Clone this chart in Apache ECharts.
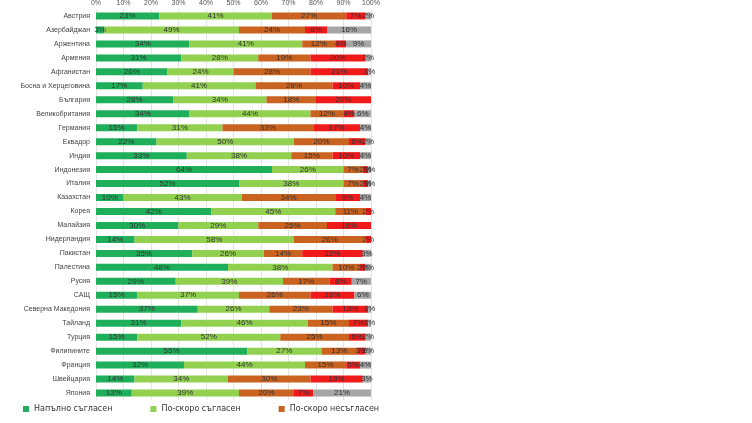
<!DOCTYPE html>
<html>
<head>
<meta charset="utf-8">
<script src="https://cdn.jsdelivr.net/npm/echarts@6/dist/echarts.min.js"></script>
<style>
  html, body { margin: 0; padding: 0; background: #fff; }
  #chart { width: 752px; height: 423px; }
</style>
</head>
<body>
<div id="chart"></div>
<script>
let countries = ['Австрия', 'Азербайджан', 'Аржентина', 'Армения', 'Афганистан', 'Босна и Херцеговина',
  'България', 'Великобритания', 'Германия', 'Еквадор', 'Индия', 'Индонезия', 'Италия', 'Казахстан',
  'Корея', 'Малайзия', 'Нидерландия', 'Пакистан', 'Палестина', 'Русия', 'САЩ', 'Северна Македония',
  'Тайланд', 'Турция', 'Филипините', 'Франция', 'Швейцария', 'Япония'];

let fullyAgree    = [23, 3, 34, 31, 26, 17, 28, 34, 15, 22, 33, 64, 52, 10, 42, 30, 14, 35, 48, 29, 15, 37, 31, 15, 55, 32, 14, 13];
let ratherAgree   = [41, 49, 41, 28, 24, 41, 34, 44, 31, 50, 38, 26, 38, 43, 45, 29, 58, 26, 38, 39, 37, 26, 46, 52, 27, 44, 34, 39];
let ratherDisagree = [27, 24, 12, 19, 28, 28, 18, 12, 33, 20, 15, 7, 7, 34, 11, 25, 26, 14, 10, 17, 26, 23, 15, 25, 13, 15, 30, 20];
let fullyDisagree = [7, 8, 4, 20, 21, 10, 20, 4, 17, 6, 10, 2, 2, 9, 2, 16, 2, 22, 2, 8, 16, 13, 7, 6, 3, 5, 19, 7];
let dontKnow      = [2, 16, 9, 2, 1, 4, 0, 6, 4, 2, 4, 1, 1, 4, 0, 0, 0, 3, 2, 7, 6, 1, 1, 2, 2, 4, 3, 21];

let xTicks = ['0%', '10%', '20%', '30%', '40%', '50%', '60%', '70%', '80%', '90%', '100%'];

let seriesDefs = [
  { name: 'Напълно съгласен', data: fullyAgree, color: '#1fae5a' },
  { name: 'По-скоро съгласен', data: ratherAgree, color: '#92d050' },
  { name: 'По-скоро несъгласен', data: ratherDisagree, color: '#c9631f' },
  { name: 'Напълно несъгласен', data: fullyDisagree, color: '#f01a1a' },
  { name: 'Не знам', data: dontKnow, color: '#a6a6a6' }
];

let chart = echarts.init(document.getElementById('chart'));
chart.setOption({
  animation: false,
  grid: { left: 96, right: 381, top: 8, bottom: 23 },
  legend: {
    data: seriesDefs.slice(0, 3).map((s) => s.name),
    left: 18,
    bottom: 5,
    itemWidth: 6,
    itemHeight: 6,
    itemGap: 38,
    icon: 'rect',
    textStyle: { fontSize: 8, color: '#333', fontFamily: 'DejaVu Sans' }
  },
  xAxis: {
    type: 'value',
    position: 'top',
    min: 0,
    max: 100,
    interval: 10,
    axisLine: { show: false },
    axisTick: { show: false },
    axisLabel: {
      fontSize: 7,
      color: '#555',
      margin: 2,
      formatter: (v) => xTicks[v / 10]
    },
    splitLine: { lineStyle: { color: '#e4e4e4' } }
  },
  yAxis: {
    type: 'category',
    inverse: true,
    data: countries,
    axisLine: { show: false },
    axisTick: { show: false },
    axisLabel: { fontSize: 7, color: '#444', margin: 6 }
  },
  series: seriesDefs.map((s) => ({
    name: s.name,
    type: 'bar',
    stack: 'total',
    data: s.data,
    barWidth: 7,
    itemStyle: { color: s.color },
    label: {
      show: true,
      fontSize: 8,
      color: '#333',
      formatter: (p) => (p.value ? p.value + '%' : '')
    }
  }))
});
</script>
</body>
</html>
